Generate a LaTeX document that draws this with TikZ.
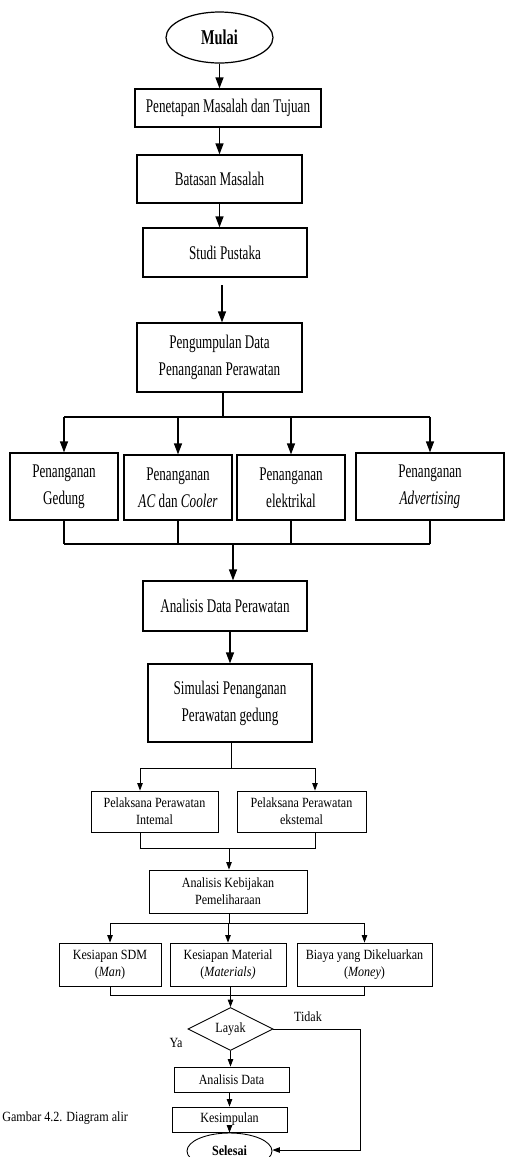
\documentclass[tikz,border=0pt]{standalone}
\usepackage{fontspec}
\setmainfont{Liberation Serif}
\newfontfamily\narrowfont[FakeStretch=0.68]{Liberation Serif}
\newfontfamily\smallfont[FakeStretch=0.86]{Liberation Serif}
\usetikzlibrary{shapes.geometric,arrows.meta}

\begin{document}
\begin{tikzpicture}[x=0.02cm,y=-0.02cm,
  bigbox/.style={draw,line width=0.7pt,align=center,inner sep=0pt,font=\narrowfont\fontsize{11}{15.5}\selectfont},
  smallbox/.style={draw,line width=0.5pt,align=center,inner sep=0pt,font=\smallfont\fontsize{8}{9.5}\selectfont},
  bigarr/.style={line width=0.7pt,-{Triangle[length=2.2mm,width=1.6mm]}},
  smallarr/.style={line width=0.5pt,-{Triangle[length=1.5mm,width=1.1mm]}},
  bigline/.style={line width=0.7pt},
  smallline/.style={line width=0.5pt}]
\path[use as bounding box,clip] (0,0) rectangle (505,1157);
\node[draw,ellipse,line width=0.7pt,minimum width=2.14cm,minimum height=1.02cm,inner sep=0pt,font=\narrowfont\bfseries\fontsize{12}{14}\selectfont] (mulai) at (219.5,37.5) {Mulai};
\node[bigbox,minimum width=3.72cm,minimum height=0.76cm] (tujuan) at (228,108) {Penetapan Masalah dan Tujuan};
\node[bigbox,minimum width=3.30cm,minimum height=0.96cm] (batasan) at (219.5,179) {Batasan Masalah};
\node[bigbox,minimum width=3.28cm,minimum height=0.98cm] (pustaka) at (225,252.5) {Studi Pustaka};
\node[bigbox,minimum width=3.30cm,minimum height=1.38cm] (kumpul) at (219.5,357.5) {Pengumpulan Data\\Penanganan Perawatan};
\node[bigbox,minimum width=2.16cm,minimum height=1.34cm] (gedung) at (64,486.5) {Penanganan\\Gedung};
\node[bigbox,minimum width=2.16cm,minimum height=1.30cm] (ac) at (178,487.5) {Penanganan\\\textit{AC} dan \textit{Cooler}};
\node[bigbox,minimum width=2.16cm,minimum height=1.30cm] (elek) at (291,487.5) {Penanganan\\elektrikal};
\node[bigbox,minimum width=2.96cm,minimum height=1.34cm] (advert) at (430,486.5) {Penanganan\\\textit{Advertising}};
\node[bigbox,minimum width=3.28cm,minimum height=1.00cm] (analisis) at (225,606) {Analisis Data Perawatan};
\node[bigbox,minimum width=3.28cm,minimum height=1.56cm] (simulasi) at (230,703) {Simulasi Penanganan\\Perawatan gedung};
\node[smallbox,minimum width=2.54cm,minimum height=0.82cm] (internal) at (154.5,811.5) {Pelaksana Perawatan\\Intemal};
\node[smallbox,minimum width=2.58cm,minimum height=0.82cm] (eksternal) at (301.5,811.5) {Pelaksana Perawatan\\ekstemal};
\node[smallbox,minimum width=3.16cm,minimum height=0.86cm] (kebijakan) at (228,891.5) {Analisis Kebijakan\\Pemeliharaan};
\node[smallbox,minimum width=2.04cm,minimum height=0.86cm] (sdm) at (110,964.5) {Kesiapan SDM\\(\textit{Man})};
\node[smallbox,minimum width=2.32cm,minimum height=0.86cm] (material) at (228,964.5) {Kesiapan Material\\(\textit{Materials)}};
\node[smallbox,minimum width=2.70cm,minimum height=0.86cm] (biaya) at (364.5,964.5) {Biaya yang Dikeluarkan\\(\textit{Money})};
\node[smallbox,diamond,minimum width=1.70cm,minimum height=0.84cm] (layak) at (230.5,1029) {Layak};
\node[smallbox,minimum width=2.30cm,minimum height=0.50cm] (analdata) at (231.5,1079.5) {Analisis Data};
\node[smallbox,minimum width=2.30cm,minimum height=0.50cm] (simpul) at (229.5,1119.5) {Kesimpulan};
\node[smallbox,ellipse,minimum width=1.70cm,minimum height=0.72cm,font=\smallfont\bfseries\fontsize{8}{9.5}\selectfont] (selesai) at (229.5,1151) {Selesai};
\node[font=\smallfont\fontsize{8}{9.5}\selectfont,inner sep=0pt] (tidak) at (308,1017) {Tidak};
\node[font=\smallfont\fontsize{8}{9.5}\selectfont,inner sep=0pt] (ya) at (176,1043) {Ya};
\node[font=\smallfont\fontsize{8}{9.5}\selectfont,inner sep=0pt,anchor=west] (caption) at (2,1118) {Gambar 4.2. Diagram alir};
\coordinate (p1) at (222,285);
\coordinate (busA) at (223,417);
\coordinate (busB) at (233,544);
\coordinate (busC) at (231,768);
\coordinate (cL) at (140,768);
\coordinate (cR) at (315,768);
\coordinate (busD) at (229,848);
\coordinate (busE) at (229,923);
\coordinate (busF) at (229,995);
\coordinate (tk) at (360,1150);
\draw[bigarr] (mulai) -- (mulai |- tujuan.north);
\draw[bigarr] (tujuan.south -| batasan) -- (batasan.north);
\draw[bigarr] (batasan) -- (batasan |- pustaka.north);
\draw[bigarr] (p1) -- (p1 |- kumpul.north);
\draw[bigline] (busA |- kumpul.south) -- (busA);
\draw[bigline] (gedung.north |- busA) -- (advert.north |- busA);
\foreach \n in {gedung,ac,elek,advert}
  \draw[bigarr] (\n.north |- busA) -- (\n.north);
\foreach \n in {gedung,ac,elek,advert}
  \draw[bigline] (\n.south) -- (\n.south |- busB);
\draw[bigline] (gedung.south |- busB) -- (advert.south |- busB);
\draw[bigarr] (busB) -- (busB |- analisis.north);
\draw[bigarr] (analisis.south -| simulasi) -- (simulasi.north);
\draw[smallline] (simulasi.south -| busC) -- (busC);
\draw[smallline] (cL) -- (cR);
\draw[smallarr] (cL) -- (cL |- internal.north);
\draw[smallarr] (cR) -- (cR |- eksternal.north);
\draw[smallline] (cL |- internal.south) -- (cL |- busD) -- (cR |- busD) -- (cR |- eksternal.south);
\draw[smallarr] (busD) -- (busD |- kebijakan.north);
\draw[smallline] (busE |- kebijakan.south) -- (busE);
\draw[smallline] (sdm.north |- busE) -- (biaya.north |- busE);
\foreach \n in {sdm,material,biaya}
  \draw[smallarr] (\n.north |- busE) -- (\n.north);
\draw[smallline] (sdm.south) -- (sdm.south |- busF) -- (biaya.south |- busF) -- (biaya.south);
\draw[smallarr] (material.south -| layak) -- (layak.north);
\draw[smallarr] (layak.south) -- (layak.south |- analdata.north);
\draw[smallarr] (analdata.south -| simpul) -- (simpul.north);
\draw[smallarr] (simpul) -- (selesai);
\draw[smallarr] (layak.east) -| (tk) -- (tk -| selesai.east);
\end{tikzpicture}
\end{document}
